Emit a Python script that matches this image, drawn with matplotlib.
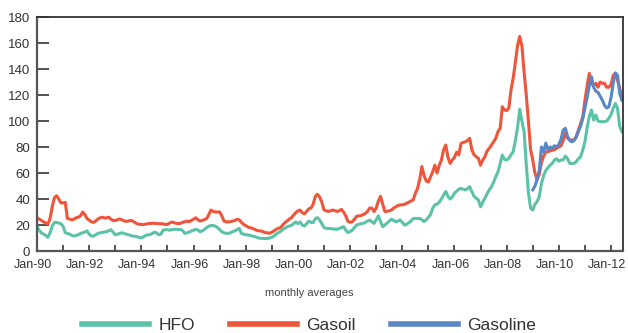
import numpy as np
import matplotlib
matplotlib.use('Agg')
import matplotlib.pyplot as plt
from matplotlib.ticker import MultipleLocator, FixedLocator
from matplotlib.transforms import ScaledTranslation

plt.rcParams['font.family'] = ['Liberation Sans', 'DejaVu Sans']

# monthly averages, Jan 1990 onwards ($/bbl)
hfo = [
    19, 16, 14, 13, 12, 10.5, 14, 19, 22, 22, 21.5, 21,                 # 1990
    19, 14, 13.5, 13, 12, 11.5, 12, 12.5, 13.5, 14, 14.5, 15.5,         # 1991
    13, 11.5, 11.5, 12.5, 13.5, 14, 14.3, 14.5, 15, 15.5, 16.4, 14.5,   # 1992
    12.5, 13, 13.5, 14, 13.5, 13, 12.5, 12, 11.5, 11.3, 11, 10.5,       # 1993
    10, 11, 12, 12.5, 12.5, 13.5, 14.4, 14, 12.5, 13, 16, 16.4,         # 1994
    16.4, 16, 16.5, 16.7, 16.7, 16.5, 16.7, 15.5, 13.6, 14, 14.5, 15.4, # 1995
    16, 16.7, 16.2, 14.8, 15.5, 16.5, 18, 19, 19.7, 19.5, 19.2, 18,     # 1996
    16.5, 14.8, 14, 13.6, 13.6, 14, 14.8, 15.5, 16.5, 17.4, 13.5, 13,   # 1997
    12.5, 12.3, 12, 11.5, 11.2, 10.5, 10, 9.7, 9.7, 9.5, 9.7, 10,       # 1998
    10.5, 11.5, 13, 14.1, 15, 16.7, 17.5, 18.5, 19.2, 19.7, 21, 22.3,   # 1999
    21, 22.3, 20, 19.2, 21, 23, 22, 21.8, 25, 25.6, 23.8, 21,           # 2000
    18, 17.4, 17.4, 17.2, 17, 16.8, 16.7, 17.2, 18, 18.7, 16, 14.1,     # 2001
    15, 16, 18, 20, 20.5, 21, 21.3, 22, 23, 23.8, 22.5, 21.3,           # 2002
    24, 27, 22.6, 18.7, 20, 21.5, 23, 24.4, 23.5, 22.6, 23, 23.8,       # 2003
    22, 20, 20.5, 21.8, 23, 25, 25, 25, 25, 24, 22.6, 24,               # 2004
    26, 28, 33, 35.6, 36, 37.5, 40, 43, 45.8, 42, 40, 41.5,             # 2005
    44.5, 46, 47.5, 48.2, 47.5, 47, 48, 49.5, 45.6, 42, 40.6, 39.2,     # 2006
    34, 37.5, 40.6, 44, 47, 49.5, 53, 57.2, 61, 67, 73.8, 70.5,         # 2007
    70, 71.3, 74, 76.4, 85, 95, 109, 100, 92, 67, 45, 33,               # 2008
    31.5, 36, 38, 42, 52, 58, 62, 64, 66, 67.5, 70, 71,                 # 2009
    69, 70, 70, 73, 71, 67.4, 67.4, 67.4, 68.7, 71, 72.5, 77.7,         # 2010
    84, 95, 103.3, 108.5, 100.7, 104.6, 100, 99.5, 99.5, 99.5, 100, 102,  # 2011
    105, 109.7, 113.6, 109.7, 95.6, 91.8,                               # 2012
]

gasoil = [
    25.6, 24.5, 23.5, 22.5, 21.5, 20.8, 25, 34, 41, 42.5, 40, 37,       # 1990
    37, 37.4, 25, 24.6, 24, 24.5, 25.6, 26, 27, 30, 28, 25,             # 1991
    23.8, 22.5, 22, 23, 24.6, 25.5, 26, 25.5, 25.4, 26, 24.5, 23.4,     # 1992
    23.5, 24, 24.7, 24, 23.2, 22.8, 23, 23.6, 23, 22, 21, 20.5,         # 1993
    20.5, 20.3, 20.7, 21, 21.2, 21.3, 21.3, 21.2, 21, 21, 20.8, 20.5,   # 1994
    20.5, 21.5, 22.3, 21.8, 21.3, 21, 21.3, 22, 22.5, 23, 22.5, 23.5,   # 1995
    24.5, 25.6, 24, 23, 23.5, 24.2, 24.9, 28, 31.5, 30.5, 30, 30,       # 1996
    30, 27, 23, 22.5, 22.3, 22.6, 23, 23.5, 24.4, 24, 22, 20.5,         # 1997
    19.5, 18.5, 17.9, 17.5, 16.7, 16, 15.5, 15.4, 14.8, 14.1, 14, 13.6, # 1998
    14.5, 15.5, 16.7, 17.5, 18, 20, 21.8, 23, 24.5, 25.6, 27.5, 29.5,   # 1999
    30.8, 31.5, 29.5, 28.5, 30.5, 32.5, 33, 36, 42, 43.6, 41.5, 37.5,   # 2000
    31.5, 31, 30.4, 31, 31.5, 31, 30.4, 31, 32, 30, 27, 22.8,           # 2001
    22.1, 22.5, 24.5, 26.7, 27, 27.2, 28, 29, 30.4, 33, 33, 30.4,       # 2002
    33, 38.5, 42, 36, 30.4, 30.5, 31, 31.5, 33, 34, 35, 35.4,           # 2003
    35.5, 36, 36.7, 37.5, 38.5, 39.2, 44.4, 48, 55, 65, 58, 54,         # 2004
    53, 57, 61, 66, 60, 66, 70, 78, 81.5, 72, 67.4, 70,                 # 2005
    72, 76, 74, 82.8, 83.5, 84, 85, 86.7, 77.7, 74, 72.5, 71.3,         # 2006
    66, 70, 72.5, 77, 79, 81.5, 84, 86.7, 91.8, 94.4, 111, 108.5,       # 2007
    108, 110, 124, 133, 145, 158, 165, 158, 138, 120, 100, 78,          # 2008
    70, 60, 55, 59, 68, 73, 76, 76.5, 77, 77.5, 78, 79,                 # 2009
    80, 81, 85, 90.5, 87, 85.4, 85.4, 85.4, 88, 93, 98, 103,            # 2010
    116, 127, 136.7, 129, 127, 129, 126, 130, 129, 129, 126, 126,       # 2011
    128, 135, 136.7, 131.5, 125, 117.5,                                 # 2012
]

# gasoline series only starts in Jan 2009
gasoline_start = 228
gasoline = [
    47, 50, 55, 62, 80, 76, 83, 78, 80, 79, 81, 80,                     # 2009
    82, 86, 93, 94.4, 88, 85, 84, 85, 88, 92, 96, 102,                  # 2010
    110, 118, 127, 134, 126, 123, 122, 119, 116, 112, 110, 111,         # 2011
    118, 129, 137, 135, 121, 116,                                       # 2012
]

year_labels = ['Jan-90', 'Jan-92', 'Jan-94', 'Jan-96', 'Jan-98', 'Jan-00',
               'Jan-02', 'Jan-04', 'Jan-06', 'Jan-08', 'Jan-10', 'Jan-12']

C_HFO = '#5cc2a7'
C_GASOIL = '#ee553b'
C_GASOLINE = '#5a86c6'
TXT = '#333333'

months = np.arange(len(hfo))
months_gl = np.arange(gasoline_start, gasoline_start + len(gasoline))

fig = plt.figure(figsize=(6.28, 3.33), dpi=100)
ax = fig.add_axes([37/628, 1 - 251/333, 586/628, 234/333])

ax.plot(months, hfo, color=C_HFO, lw=2.2, label='HFO')
ax.plot(months, gasoil, color=C_GASOIL, lw=2.2, label='Gasoil')
ax.plot(months_gl, gasoline, color=C_GASOLINE, lw=2.2, label='Gasoline')

ax.set_xlim(0, 269.5)
ax.set_ylim(0, 180)

ax.yaxis.set_major_locator(MultipleLocator(20))
ax.xaxis.set_major_locator(FixedLocator(np.arange(0, 270, 24)))
ax.xaxis.set_minor_locator(MultipleLocator(12))
ax.set_xticklabels(year_labels)

ax.tick_params(axis='y', direction='in', length=8.5, width=1.3, color='#444444',
               labelsize=9.5, labelcolor=TXT, pad=5)
ax.tick_params(axis='x', which='both', direction='in', length=4.5, width=1.3,
               color='#444444', labelsize=9, labelcolor=TXT, pad=6)

# date labels sit a little left of their ticks
shift = ScaledTranslation(-4/100, 0, fig.dpi_scale_trans)
for lab in ax.get_xticklabels():
    lab.set_transform(lab.get_transform() + shift)

for side in ['left', 'bottom']:
    ax.spines[side].set_linewidth(1.6)
    ax.spines[side].set_color('#555555')
for side in ['top', 'right']:
    ax.spines[side].set_linewidth(1.3)
    ax.spines[side].set_color('#333333')

fig.text(309/628, 1 - 293/333, 'monthly averages', ha='center', va='center',
         fontsize=8, color='#444444')

fig.legend(loc='center', bbox_to_anchor=(309/628, 1 - 325/333), ncol=3,
           frameon=False, fontsize=12.5, handlelength=3.9, handletextpad=0.52,
           columnspacing=2.0, labelcolor=TXT, handleheight=0.5)
for line in fig.legends[0].get_lines():
    line.set_linewidth(4)

plt.savefig('out.png', dpi=100)
